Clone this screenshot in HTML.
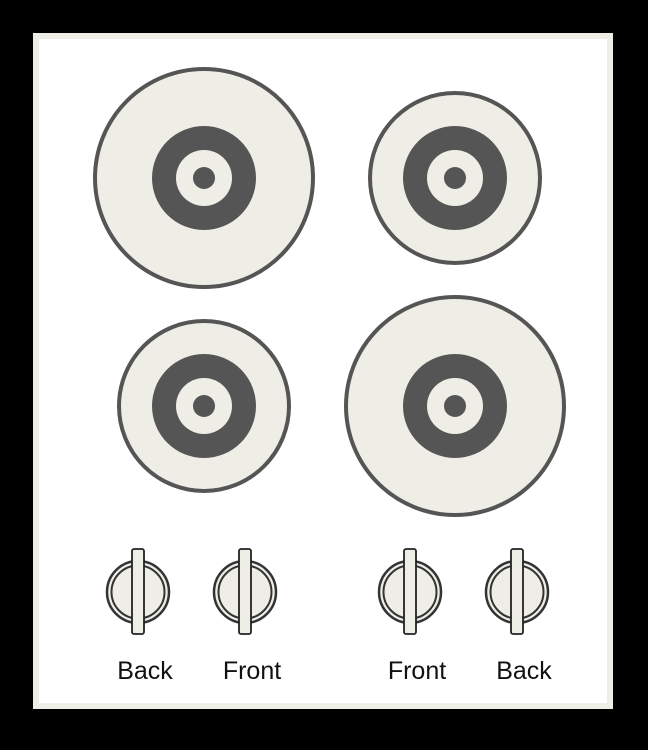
<!DOCTYPE html>
<html><head><meta charset="utf-8"><style>
html,body{margin:0;padding:0;background:#000;width:648px;height:750px;overflow:hidden}
svg{display:block}
text{font-family:"Liberation Sans",sans-serif;font-size:25px;fill:#111}
</style></head><body>
<svg width="648" height="750">
<rect x="0" y="0" width="648" height="750" fill="#000"/>
<rect x="33" y="33" width="580" height="676" fill="#efeee6"/>
<rect x="39" y="39" width="568" height="664" fill="#ffffff"/>
<g id="burners"></g>
<g id="knobs"></g>
</svg>
<script>
const burnerNames=['burner-back-left','burner-back-right','burner-front-left','burner-front-right'];
const burnerCx=[204,455,204,455];
const burnerCy=[178,178,406,406];
const burnerR=[109,85,85,109];
const knobNames=['knob-back-left','knob-front-left','knob-front-right','knob-back-right'];
const knobLabels=['Back','Front','Front','Back'];
const knobCx=[138,245,410,517];
const NS='http://www.w3.org/2000/svg';
function mk(tag,attrs,parent){const e=document.createElementNS(NS,tag);for(const k in attrs)e.setAttribute(k,attrs[k]);parent.appendChild(e);return e;}
const bg=document.getElementById('burners');
for(let i=0;i<burnerCx.length;i++){
  const g=mk('g',{},bg);
  
  
  mk('circle',{cx:burnerCx[i],cy:burnerCy[i],r:burnerR[i],fill:'#efeee6',stroke:'#555',"stroke-width":4},g);
  mk('circle',{cx:burnerCx[i],cy:burnerCy[i],r:52,fill:'#555'},g);
  mk('circle',{cx:burnerCx[i],cy:burnerCy[i],r:28,fill:'#efeee6'},g);
  mk('circle',{cx:burnerCx[i],cy:burnerCy[i],r:11,fill:'#555'},g);
}
const kg=document.getElementById('knobs');
for(let i=0;i<knobCx.length;i++){
  const g=mk('g',{},kg);
  
  
  const x=knobCx[i];
  mk('circle',{cx:x,cy:592,r:31,fill:'#efeee6',stroke:'#333',"stroke-width":2.5},g);
  mk('circle',{cx:x,cy:592,r:26.5,fill:'none',stroke:'#333',"stroke-width":2},g);
  mk('rect',{x:x-6,y:549,width:12,height:85,rx:2,fill:'#efeee6',stroke:'#222',"stroke-width":1.8},g);
  const t=mk('text',{x:x+7,y:679,"text-anchor":'middle'},g);
  t.textContent=knobLabels[i];
  
  
}
</script>
</body></html>
